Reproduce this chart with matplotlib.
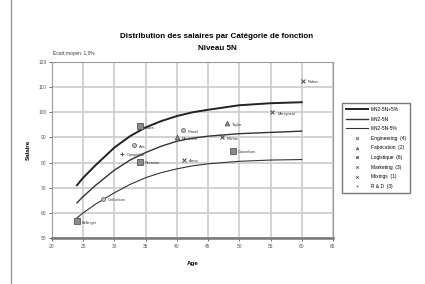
import matplotlib
matplotlib.use("Agg")
import matplotlib.pyplot as plt
from matplotlib.lines import Line2D

plt.rcParams['font.family'] = ['Liberation Sans', 'DejaVu Sans']

# Reference curves
curve_age = [24, 25, 27, 30, 32.5, 35, 37.5, 40, 42.5, 45, 50, 55, 60]
curve_plus5 = [71.0, 74.0, 79.0, 86.0, 90.5, 94.0, 96.5, 98.5, 100.0, 101.0, 102.8, 103.6, 104.0]
curve_mid = [64.0, 66.5, 71.0, 77.0, 81.0, 84.0, 86.5, 88.5, 89.7, 90.5, 91.5, 92.0, 92.5]
curve_minus5 = [58.0, 60.0, 63.5, 68.0, 71.3, 74.0, 76.0, 77.5, 78.7, 79.5, 80.5, 81.0, 81.2]
curve_names = ["MN2-5N+5%", "MN2-5N", "MN2-5N-5%"]

# Employees by category
eng_age = [28.2, 33.1, 41.0]
eng_sal = [65.6, 86.8, 92.8]
eng_lab = ["Gerhalson", "Aris", "Pranel"]

fab_age = [48.0, 40.0]
fab_sal = [95.6, 90.0]
fab_lab = ["Taylor", "Merchant"]

log_age = [24.0, 34.1, 34.1, 49.0]
log_sal = [56.6, 94.4, 80.4, 84.8]
log_lab = ["Bellinger", "Sales", "Recruiter", "Dunnelson"]

mkt_age = [41.2, 47.2, 55.3]
mkt_sal = [81.2, 90.0, 100.0]
mkt_lab = ["Aress", "Ritchie", "Mercyneal"]

mix_age = [60.2]
mix_sal = [112.4]
mix_lab = ["Rubus"]

rd_age = [31.2]
rd_sal = [83.6]
rd_lab = ["Comptable"]

series_names = ["Engineering  (4)", "Fabrication  (2)", "Logistique  (6)",
                "Marketing  (3)", "Mixings  (1)", "R & D  (3)"]

x_ticks = [20, 25, 30, 35, 40, 45, 50, 55, 60, 65]
y_ticks = [50, 60, 70, 80, 90, 100, 110, 120]

fig = plt.figure(figsize=(4.25, 2.84), dpi=100)
ax = fig.add_axes([52/425, 1-238/284, (333-52)/425, (238-62)/284])

ax.set_xlim(20, 65)
ax.set_ylim(50, 120)
ax.set_xticks(x_ticks)
ax.set_yticks(y_ticks)
ax.tick_params(labelsize=3.5, length=2, width=0.6, colors='#555555', pad=2)
ax.grid(True, color='#cfcfcf', linewidth=1.3)
ax.set_axisbelow(True)
for s in ax.spines.values():
    s.set_color('#999999')
    s.set_linewidth(0.8)
ax.spines['bottom'].set_linewidth(1.8)
ax.spines['bottom'].set_color('#777777')

h1, = ax.plot(curve_age, curve_plus5, color='#222222', lw=1.4, label=curve_names[0])
h2, = ax.plot(curve_age, curve_mid, color='#333333', lw=1.0, label=curve_names[1])
h3, = ax.plot(curve_age, curve_minus5, color='#333333', lw=0.8, label=curve_names[2])

styles = [
    (eng_age, eng_sal, eng_lab, dict(marker='o', ms=3, mfc='#bbbbbb', mec='#666666', mew=0.5)),
    (fab_age, fab_sal, fab_lab, dict(marker='^', ms=3.5, mfc='#888888', mec='#555555', mew=0.5)),
    (log_age, log_sal, log_lab, dict(marker='s', ms=5, mfc='#8a8a8a', mec='#555555', mew=0.6)),
    (mkt_age, mkt_sal, mkt_lab, dict(marker='x', ms=3.5, mec='#444444', mew=0.7)),
    (mix_age, mix_sal, mix_lab, dict(marker='x', ms=3.5, mec='#444444', mew=0.7)),
    (rd_age, rd_sal, rd_lab, dict(marker='+', ms=3.5, mec='#555555', mew=0.7)),
]
handles = []
for (a, s_, labs, st), nm in zip(styles, series_names):
    h, = ax.plot(a, s_, linestyle='none', label=nm, **st)
    for xa, ys, lb in zip(a, s_, labs):
        ax.annotate(lb, (xa, ys), xytext=(3.5, -1), textcoords='offset points',
                    fontsize=2.8, color='#333333', va='center')
    handles.append(Line2D([], [], linestyle='none', marker=st['marker'], ms=1.8,
                          mfc=st.get('mfc', 'none'), mec=st['mec'], mew=0.5))

leg = fig.legend([h1, h2, h3] + handles, curve_names + series_names,
                 loc='upper left', bbox_to_anchor=(342/425, 1-103/284),
                 fontsize=3.5, frameon=True, fancybox=False, edgecolor='#555555',
                 handlelength=4.5, handletextpad=0.6, labelspacing=0.95,
                 borderpad=0.8, borderaxespad=0)
leg.get_frame().set_linewidth(1.0)

fig.text(217/425, 1-37/284, "Distribution des salaires par Catégorie de fonction",
         ha='center', va='center', fontsize=5.8, fontweight='bold')
fig.text(217/425, 1-49/284, "Niveau 5N", ha='center', va='center',
         fontsize=5.8, fontweight='bold')
fig.text(53/425, 1-54/284, "Ecart moyen: 1,0%", ha='left', va='center',
         fontsize=3.5, color='#333333')
fig.text(28/425, 1-150/284, "Salaire", rotation=90, ha='center', va='center',
         fontsize=4.5, fontweight='bold')
fig.text(193/425, 1-263/284, "Age", ha='center', va='center',
         fontsize=4.5, fontweight='bold')

fig.add_artist(Line2D([11/425, 11/425], [0, 1], transform=fig.transFigure,
                      color='#999999', lw=1.0))

fig.savefig("out.png", dpi=100)
